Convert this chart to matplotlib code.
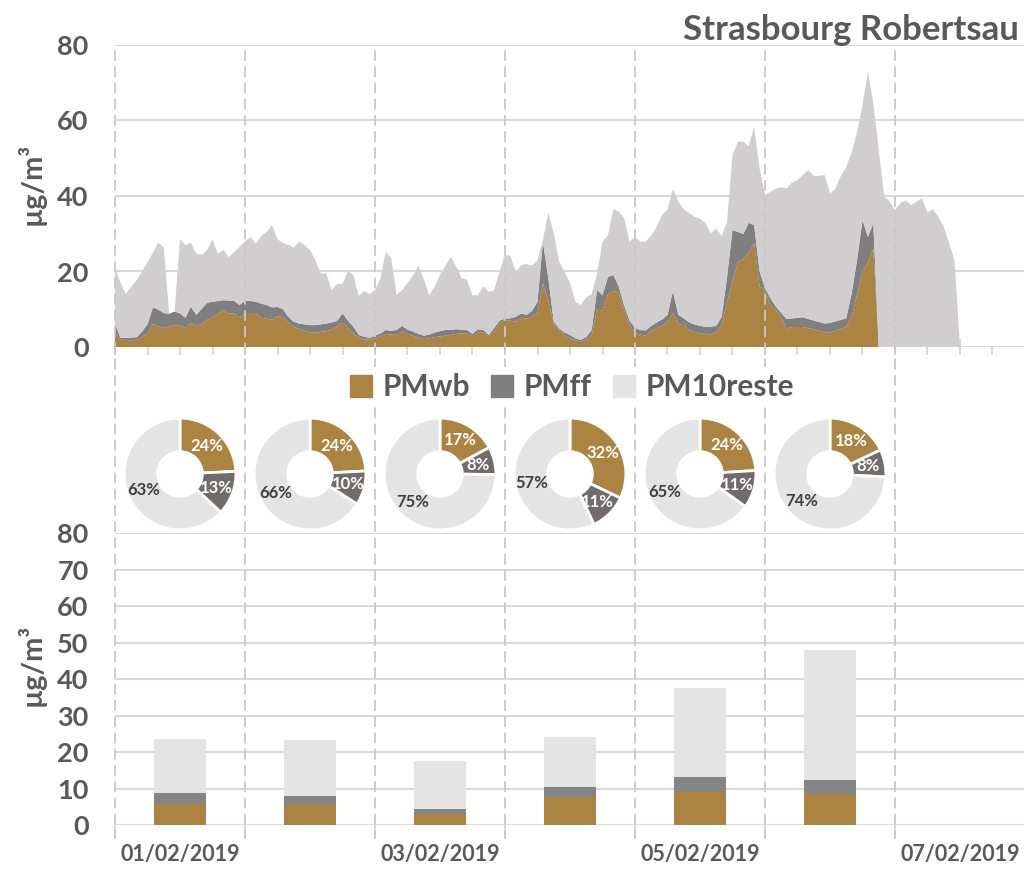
import numpy as np
import matplotlib.pyplot as plt
import matplotlib.transforms as mtransforms
from matplotlib.patches import Patch
from matplotlib.lines import Line2D

plt.rcParams['font.family'] = ['Lato', 'DejaVu Sans']
plt.rcParams['font.weight'] = 'bold'

# PM10 horaire (total), 01/02/2019 00h -> 07/02/2019 12h
pm10 = [21, 17, 14, 16, 17.7, 20, 22.5, 25, 27.6, 26.4,
        8.8, 9.4, 28.5, 27.0, 27.6, 24.8, 24.4, 25.7, 28.5, 24.6,
        25.7, 23.8, 25.2, 26.5, 28.0, 29.1, 27.4, 29.4, 30.5, 32.3,
        28.5, 27.6, 27.0, 26.3, 27.9, 27.0, 25.7, 23.0, 19.5, 19.5,
        15.1, 16.7, 16.7, 20.2, 19.1, 13.5, 14.9, 14.0, 15.1, 18.2,
        25.2, 23.5, 13.7, 15.1, 16.9, 19.0, 21.5, 18.0, 13.7, 15.9,
        19.1, 21.5, 23.9, 21.3, 18.2, 17.8, 13.7, 13.7, 16.1, 14.6,
        15.1, 20.0, 24.4, 24.1, 19.7, 21.7, 22.0, 21.5, 23.0, 28.3,
        35.6, 30.1, 22.6, 20.0, 17.0, 12.0, 11.1, 13.2, 14.0, 19.5,
        27.9, 29.6, 36.5, 35.9, 34.1, 27.9, 29.1, 27.9, 27.9, 29.6,
        31.8, 35.0, 36.5, 41.8, 38.5, 36.5, 35.5, 34.5, 34.0, 32.8,
        30.1, 31.4, 29.4, 33.2, 50.9, 54.4, 54.4, 53.2, 58.4, 47.3,
        40.3, 41.1, 42.0, 42.3, 42.0, 43.6, 44.2, 45.6, 46.9, 45.3,
        45.4, 45.6, 40.6, 42.0, 45.3, 47.7, 51.6, 56.9, 64.2, 72.9,
        64.5, 52.2, 40.0, 38.5, 36.3, 38.1, 38.8, 37.6, 38.5, 39.3,
        35.6, 36.5, 34.5, 31.9, 27.5, 23.0, 0]

# PMwb horaire (combustion de biomasse)
pm_wb = [4.1, 1.9, 1.9, 1.7, 2.0, 2.7, 3.6, 6.1, 5.5, 5.0,
         5.5, 5.8, 5.8, 5.0, 6.4, 5.6, 6.1, 7.2, 7.8, 8.8,
         9.8, 8.9, 8.9, 7.7, 9.0, 9.0, 9.0, 7.7, 7.5, 7.2,
         8.2, 7.9, 6.5, 5.3, 4.8, 4.3, 3.9, 3.8, 4.0, 4.2,
         4.6, 5.5, 6.4, 5.0, 3.5, 2.6, 2.0, 2.0, 2.4, 2.8,
         3.5, 3.3, 3.2, 4.1, 3.5, 3.0, 2.5, 2.1, 2.3, 2.6,
         2.8, 3.0, 3.2, 3.5, 3.6, 3.7, 2.8, 3.8, 3.8, 2.8,
         4.1, 6.3, 7.2, 7.0, 6.7, 7.8, 7.5, 8.0, 9.0, 16.9,
         12.4, 6.2, 4.5, 3.0, 2.3, 1.8, 1.5, 1.9, 3.2, 10.0,
         9.6, 14.0, 14.9, 14.4, 9.8, 5.8, 3.7, 3.3, 3.0, 4.3,
         5.0, 5.6, 6.7, 8.9, 6.1, 5.8, 4.5, 4.0, 3.6, 3.5,
         3.3, 4.0, 6.0, 12.0, 17.3, 22.6, 23.2, 25.0, 27.6, 16.0,
         15.1, 11.1, 10.0, 7.8, 4.9, 5.3, 5.3, 5.3, 5.0, 4.7,
         4.3, 3.9, 3.8, 4.3, 4.8, 5.3, 8.0, 14.0, 20.0, 22.3,
         26.1]

# PMff horaire (combustibles fossiles)
pm_ff = [2.1, 0.5, 0.5, 0.8, 0.6, 1.4, 2.4, 4.4, 4.4, 4.0,
         3.3, 3.6, 3.1, 2.7, 4.3, 2.9, 4.0, 4.5, 4.2, 3.4,
         2.6, 3.4, 3.3, 3.4, 3.2, 3.2, 3.0, 3.8, 3.6, 3.3,
         2.4, 2.1, 1.5, 1.4, 1.4, 1.7, 1.9, 2.0, 2.0, 2.0,
         1.9, 1.4, 2.5, 2.0, 1.9, 0.6, 0.7, 0.4, 0.6, 0.8,
         1.0, 1.0, 1.3, 1.5, 1.1, 1.1, 1.0, 0.9, 1.0, 1.2,
         1.4, 1.5, 1.4, 1.2, 1.0, 0.8, 0.7, 0.9, 0.7, 0.4,
         0.9, 0.7, 0.3, 0.6, 1.3, 1.1, 1.0, 1.6, 3.0, 11.0,
         5.8, 0.6, 0.4, 0.8, 0.9, 0.5, 0.4, 0.7, 1.3, 5.1,
         4.1, 4.5, 4.2, 1.6, 1.2, 1.2, 1.3, 1.2, 1.4, 1.3,
         1.5, 1.7, 1.8, 5.9, 2.4, 1.8, 2.0, 2.0, 2.0, 1.8,
         2.1, 1.6, 2.0, 6.6, 13.7, 7.9, 6.7, 7.9, 4.7, 4.0,
         0.5, 1.8, 0.7, 1.2, 2.5, 2.3, 2.4, 2.6, 2.4, 2.3,
         2.3, 2.3, 2.6, 2.5, 2.4, 2.3, 6.2, 9.0, 13.6, 6.9,
         6.6]

# moyennes journalieres
jours = [0.5, 1.5, 2.5, 3.5, 4.5, 5.5]
jour_wb = [5.7, 5.6, 3.0, 7.7, 9.0, 8.6]
jour_ff = [3.0, 2.3, 1.4, 2.6, 4.1, 3.8]
jour_reste = [14.8, 15.3, 13.1, 13.7, 24.4, 35.6]

date_pos = [0.5, 2.5, 4.5, 6.5]
date_labels = ['01/02/2019', '03/02/2019', '05/02/2019', '07/02/2019']

c_wb = '#AA8440'
c_ff = '#7F7F7F'
c_ff_pie = '#716C6B'
c_ff_bar = '#858585'
c_reste = '#D0CECE'
c_reste_light = '#E4E4E4'
c_txt = '#595959'
c_grid = '#D9D9D9'

W, H = 1024, 871
fig = plt.figure(figsize=(W / 100, H / 100), dpi=100)


def fx(px):
    return px / W


def fy(py):
    return 1 - py / H


ax_top = fig.add_axes([fx(115), fy(347), fx(1025) - fx(115), fy(45) - fy(347)])
ax_bot = fig.add_axes([fx(115), fy(825), fx(1025) - fx(115), fy(533) - fy(825)])

# --- courbes horaires
hours = np.arange(len(pm10))
wb = np.zeros(len(pm10))
wb[:len(pm_wb)] = pm_wb
ff = np.zeros(len(pm10))
ff[:len(pm_ff)] = pm_ff
reste = np.clip(np.array(pm10) - wb - ff, 0, None)

ax_top.stackplot(hours, wb, ff, reste, colors=[c_wb, c_ff, c_reste], lw=0)
ax_top.set_xlim(0, 168)
ax_top.set_ylim(0, 80)
ax_top.set_yticks(np.arange(0, 81, 20))
ax_top.set_xticks(np.arange(0, 169, 12))
ax_top.set_xticks(np.arange(0, 169, 6), minor=True)
ax_top.tick_params(axis='x', which='major', length=12, direction='inout',
                   color=c_grid, width=1.5, labelbottom=False)
ax_top.tick_params(axis='x', which='minor', length=6, direction='out',
                   color=c_grid, width=1.5)

# --- barres journalieres
ax_bot.bar(jours, jour_wb, width=0.4, color=c_wb)
ax_bot.bar(jours, jour_ff, width=0.4, bottom=jour_wb, color=c_ff_bar)
ax_bot.bar(jours, jour_reste, width=0.4,
           bottom=np.array(jour_wb) + np.array(jour_ff), color=c_reste_light)
ax_bot.set_xlim(0, 7)
ax_bot.set_ylim(0, 80)
ax_bot.set_yticks(np.arange(0, 81, 10))
ax_bot.set_xticks(date_pos)
ax_bot.set_xticklabels(date_labels)
ax_bot.set_xticks(np.arange(0, 8), minor=True)
ax_bot.tick_params(axis='x', which='major', length=0, pad=14,
                   labelsize=15.5, labelcolor=c_txt)
ax_bot.tick_params(axis='x', which='minor', length=10, color=c_grid, width=1.5)

for ax in (ax_top, ax_bot):
    for s in ax.spines.values():
        s.set_visible(False)
    ax.set_axisbelow(True)
    ax.yaxis.grid(True, color=c_grid, lw=1.5)
    ax.tick_params(axis='y', length=0, pad=19, labelsize=19.5, labelcolor=c_txt)

# lignes pointillees des jours
trans = mtransforms.blended_transform_factory(ax_bot.transData, fig.transFigure)
for d in range(7):
    fig.add_artist(Line2D([d, d], [fy(50), fy(838)], transform=trans,
                          color='#C8C8C8', lw=1.3, ls=(0, (6, 3)), zorder=1))

# --- camemberts
for i, c in enumerate(jours):
    cx = fig.transFigure.inverted().transform(ax_bot.transData.transform((c, 0)))[0]
    pw, ph = 114 / W, 114 / H
    pax = fig.add_axes([cx - pw / 2, fy(474) - ph / 2, pw, ph])
    wedges, texts, autotexts = pax.pie(
        [jour_wb[i], jour_ff[i], jour_reste[i]],
        colors=[c_wb, c_ff_pie, c_reste_light], startangle=90, counterclock=False,
        radius=1, wedgeprops=dict(width=0.6, edgecolor='white', linewidth=2),
        autopct='%.0f%%', pctdistance=0.7,
        textprops=dict(fontsize=12, fontweight='bold'))
    autotexts[0].set_color('white')
    autotexts[1].set_color('white')
    autotexts[2].set_color('#404040')
    pax.set_xlim(-1.02, 1.02)
    pax.set_ylim(-1.02, 1.02)

# --- legende
handles = [Patch(color=c_wb), Patch(color=c_ff), Patch(color=c_reste_light)]
leg = fig.legend(handles, ['PMwb', 'PMff', 'PM10reste'], loc='center',
                 bbox_to_anchor=(fx(572), fy(387)), ncol=3, fontsize=21.5,
                 handlelength=0.75, handleheight=0.75, handletextpad=0.35,
                 columnspacing=0.7, borderpad=0.2, frameon=True, framealpha=1,
                 facecolor='white', edgecolor='none', labelcolor=c_txt)
leg.set_zorder(5)

fig.text(fx(1019), fy(30), 'Strasbourg Robertsau', ha='right', va='center',
         fontsize=25, color=c_txt)
fig.text(fx(31), fy(184), 'µg/m³', rotation=90, ha='center', va='center',
         fontsize=21, color=c_txt)
fig.text(fx(31), fy(665), 'µg/m³', rotation=90, ha='center', va='center',
         fontsize=21, color=c_txt)

fig.savefig('out.png', dpi=100)
